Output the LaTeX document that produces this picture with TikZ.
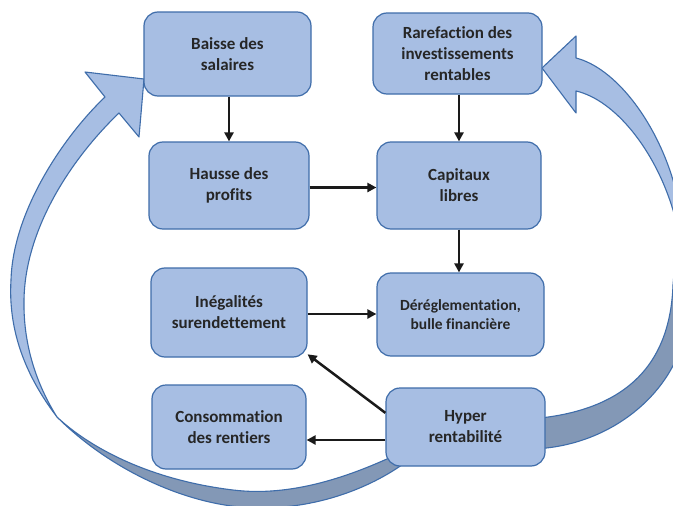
\documentclass[tikz,border=0pt]{standalone}
\usepackage{fontspec}
\setmainfont{Carlito}[Ligatures=NoCommon]
\usetikzlibrary{arrows.meta}

\definecolor{boxfill}{HTML}{A7BEE3}
\definecolor{boxline}{HTML}{3F6DAA}
\definecolor{shade}{HTML}{8398B6}
\definecolor{ink}{HTML}{262626}
\definecolor{link}{HTML}{1A1A1A}

\begin{document}
\begin{tikzpicture}[x=1pt,y=-1pt,
  card/.style={draw=boxline, fill=boxfill, line width=1.2pt, rounded corners=14pt,
    inner sep=0pt, align=center, text=ink,
    font=\bfseries\fontsize{17}{21}\selectfont},
  smallcard/.style={card, font=\bfseries\fontsize{15.5}{19}\selectfont},
  flow/.style={draw=link, line width=2.5pt, -{Triangle[length=9pt,width=9pt]}},
  ribbon/.style={draw=boxline, line width=1.1pt, line join=round}]

\fill[white] (0,0) rectangle (673,506);
\useasboundingbox (0,0) rectangle (673,506);

% the two big curved feedback arrows, behind the boxes
\begin{scope}
  \clip (0,0) rectangle (673,506);
  % left loop: bright face rising to the wage box
  \path[ribbon, fill=boxfill] (105,97) -- (85,72) -- (144,79) -- (139,137) -- (119,113)
    .. controls (70,160) and (25,230) .. (24,300)
    .. controls (23,350) and (40,390) .. (57,417)
    .. controls (25,375) and (8,330) .. (11,280)
    .. controls (13,210) and (65,135) .. (105,97) -- cycle;
  % left loop: underside along the bottom
  \path[ribbon, fill=shade] (57,417)
    .. controls (90,448) and (150,480) .. (233,490)
    .. controls (290,497) and (350,478) .. (410,448)
    -- (415,455)
    .. controls (385,480) and (330,508) .. (260,508)
    .. controls (190,508) and (110,470) .. (57,417) -- cycle;
  % right loop: bright face with the head pointing at the investment box
  \path[ribbon, fill=boxfill] (576,58) -- (576,36) -- (542,68) -- (576,113) -- (576,91)
    .. controls (615,100) and (655,150) .. (673,210)
    -- (682,240) -- (700,240) -- (682,210) -- (673,180)
    .. controls (655,120) and (615,68) .. (576,58) -- cycle;
  % right loop: underside leaving the profitability box
  \path[ribbon, fill=shade] (530,419)
    .. controls (620,412) and (670,370) .. (673,285)
    -- (676,250) -- (700,250) -- (690,320) -- (680,350)
    .. controls (660,405) and (600,448) .. (530,449) -- cycle;
\end{scope}

% boxes
\node[card, minimum width=167pt, minimum height=84pt] (bais) at (227.5,54) {Baisse des\\salaires};
\node[card, minimum width=160pt, minimum height=87pt] (haus) at (229,185.5) {Hausse des\\profits};
\node[card, minimum width=169pt, minimum height=81pt] (rare) at (457.5,53.5) {Rarefaction des\\investissements\\rentables};
\node[card, minimum width=164pt, minimum height=87pt] (cap) at (459,185.5) {Capitaux\\libres};
\node[card, minimum width=156pt, minimum height=89pt] (ineg) at (229,312.5) {Inégalités\\surendettement};
\node[smallcard, minimum width=167pt, minimum height=83pt] (dereg) at (460.5,314.5) {Déréglementation,\\bulle financière};
\node[card, minimum width=154pt, minimum height=84pt] (cons) at (229,427) {Consommation\\des rentiers};
\node[card, minimum width=159pt, minimum height=78pt] (hyp) at (465.5,427) {Hyper\\rentabilité};

% connectors
\draw[flow] (bais.south -| haus.north) -- (haus.north);
\draw[flow] (rare.south -| cap.north) -- (cap.north);
\draw[flow] ([yshift=-2pt]haus.east) -- ([yshift=-2pt]cap.west);
\draw[flow] (cap.south) -- (cap.south |- dereg.north);
\draw[flow] ([yshift=-1.5pt]ineg.east) -- ([yshift=-1.5pt]ineg.east -| dereg.west);
\draw[flow] (hyp.170.7) -- (ineg.332.6);
\draw[flow] ([yshift=-13pt]hyp.west) -- ([yshift=-13pt]cons.east);
\end{tikzpicture}
\end{document}
